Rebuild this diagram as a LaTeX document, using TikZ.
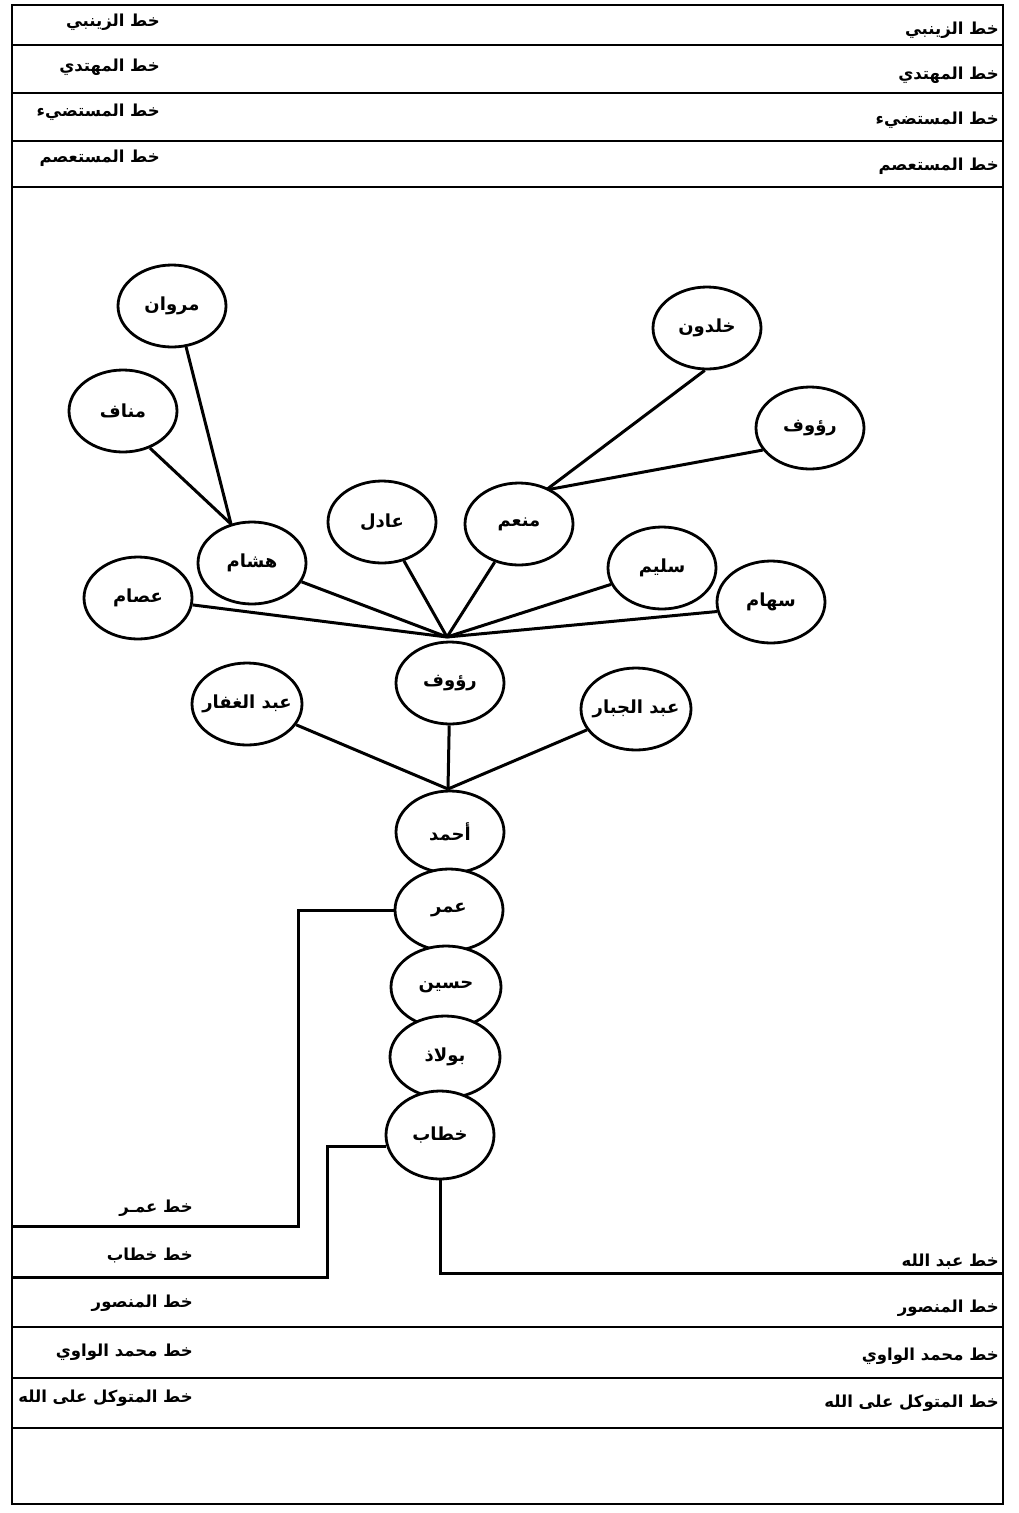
\documentclass[tikz,border=0pt]{standalone}
\usepackage{fontspec}
\TeXXeTstate=1
\newfontfamily\arabicfont[Script=Arabic]{DejaVu Sans}
\usetikzlibrary{shapes.geometric,backgrounds}
\newcommand\artxt[1]{\beginR #1\endR}
\newcommand\nametxt[1]{\makebox[0pt]{\beginR #1\endR}}
\tikzset{
  pers/.style={ellipse, draw, line width=2.8pt, fill=white, minimum width=108pt, minimum height=82pt, inner sep=0pt,
    font=\arabicfont\bfseries\fontsize{18}{21}\selectfont},
  conn/.style={line width=3pt},
  rule/.style={line width=2.8pt},
  lbl/.style={inner sep=0pt, anchor=east, font=\arabicfont\bfseries\fontsize{16.5}{19}\selectfont}
}
\begin{document}
\begin{tikzpicture}[x=1pt,y=-1pt]
\useasboundingbox (0,0) rectangle (1019,1513);
% ---- nodes
\node[pers] (marwan) at (172,306) {\nametxt{مروان}};
\node[pers] (manaf) at (123,411) {\nametxt{مناف}};
\node[pers] (hisham) at (252,563) {\nametxt{هشام}};
\node[pers] (issam) at (138,598) {\nametxt{عصام}};
\node[pers] (adel) at (382,522) {\nametxt{عادل}};
\node[pers] (munem) at (519,524) {\nametxt{منعم}};
\node[pers] (khaldun) at (707,328) {\nametxt{خلدون}};
\node[pers] (raoufb) at (810,428) {\nametxt{رؤوف}};
\node[pers] (salim) at (662,568) {\nametxt{سليم}};
\node[pers] (siham) at (771,602) {\nametxt{سهام}};
\node[pers] (raouf) at (450,683) {\nametxt{رؤوف}};
\node[pers, minimum width=110pt] (ghaffar) at (247,704) {\nametxt{عبد الغفار}};
\node[pers, minimum width=110pt] (jabbar) at (636,709) {\nametxt{عبد الجبار}};
\node[pers] (ahmad) at (450,832) {\nametxt{أحمد}};
\node[pers] (amr) at (449,910) {\nametxt{عمر}};
\node[pers, minimum width=110pt] (husain) at (446,987) {\nametxt{حسين}};
\node[pers, minimum width=110pt] (bulaz) at (445,1057) {\nametxt{بولاذ}};
\node[pers, minimum height=88pt] (khattab) at (440,1135) {\nametxt{خطاب}};
% ---- junction points
\coordinate (hub) at (447,637);
\coordinate (hubb) at (448,789);
\coordinate (hj) at (231,524);
\coordinate (mj) at (546,490);
\coordinate (amrc) at (298,1226);
\coordinate (amrl) at (12,1226);
\coordinate (khc) at (327,1277);
\coordinate (khl) at (12,1277);
\coordinate (abc) at (440,1273);
\coordinate (abr) at (1003,1273);
% ---- background and connectors
\begin{pgfonlayer}{background}
\fill[white] (0,0) rectangle (1019,1513);
\draw[conn] (marwan.-71) -- (hj);
\draw[conn] (manaf.-54) -- (hj);
\draw[conn] (khaldun.-93) -- (mj);
\draw[conn] (raoufb.205) -- (mj);
\draw[conn] (hisham) -- (hub);
\draw[conn] (issam) -- (hub);
\draw[conn] (adel) -- (hub);
\draw[conn] (munem) -- (hub);
\draw[conn] (salim) -- (hub);
\draw[conn] (siham.190) -- (hub);
\draw[conn] (ghaffar) -- (hubb);
\draw[conn] (raouf) -- (hubb);
\draw[conn] (jabbar) -- (hubb);
\end{pgfonlayer}
\draw[conn] (amr.west) -| (amrc) -- (amrl);
\draw[conn] (khattab.192) -| (khc) -- (khl);
\draw[conn] (khattab.south) -- (abc) -- (abr);
% ---- frame and strips
\draw[rule] (12,5) rectangle (1003,1504);
\foreach \yy in {45,93,141,187,1327,1378,1428}
  \draw[rule] (12,\yy) -- (1003,\yy);
% ---- strip labels
\node[lbl] (tl1) at (160,22) {\artxt{خط الزينبي}};
\node[lbl] (tl2) at (160,67) {\artxt{خط المهتدي}};
\node[lbl] (tl3) at (160,112) {\artxt{خط المستضيء}};
\node[lbl] (tl4) at (160,158) {\artxt{خط المستعصم}};
\node[lbl] (tr1) at (999,30) {\artxt{خط الزينبي}};
\node[lbl] (tr2) at (999,75) {\artxt{خط المهتدي}};
\node[lbl] (tr3) at (999,120) {\artxt{خط المستضيء}};
\node[lbl] (tr4) at (999,166) {\artxt{خط المستعصم}};
\node[lbl] (bl1) at (193,1208) {\artxt{خط عمـر}};
\node[lbl] (bl2) at (193,1255) {\artxt{خط خطاب}};
\node[lbl] (bl3) at (193,1303) {\artxt{خط المنصور}};
\node[lbl] (bl4) at (193,1352) {\artxt{خط محمد الواوي}};
\node[lbl] (bl5) at (193,1398) {\artxt{خط المتوكل على الله}};
\node[lbl] (br1) at (999,1262) {\artxt{خط عبد الله}};
\node[lbl] (br2) at (999,1308) {\artxt{خط المنصور}};
\node[lbl] (br3) at (999,1356) {\artxt{خط محمد الواوي}};
\node[lbl] (br4) at (999,1403) {\artxt{خط المتوكل على الله}};
\end{tikzpicture}
\end{document}
